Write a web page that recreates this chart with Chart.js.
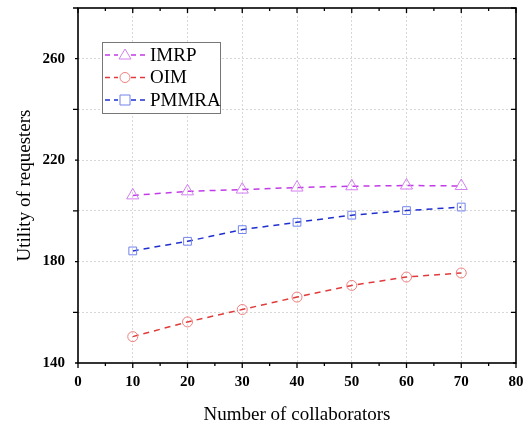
<!DOCTYPE html>
<html>
<head>
<meta charset="utf-8">
<script src="https://cdn.jsdelivr.net/npm/chart.js@4"></script>
<style>
  html, body { margin: 0; padding: 0; background: #ffffff; }
  #wrap { width: 524px; height: 426px; }
</style>
</head>
<body>
<div id="wrap"><canvas id="c" width="524" height="426"></canvas></div>
<script>
// Number of collaborators on the x axis
const collaborators = [10, 20, 30, 40, 50, 60, 70];

// Utility of requesters for each scheme
const imrp  = [206.1, 207.7, 208.4, 209.2, 209.7, 210.0, 209.8];
const oim   = [150.4, 156.2, 161.1, 166.0, 170.6, 173.9, 175.5];
const pmmra = [184.2, 188.0, 192.6, 195.5, 198.3, 200.1, 201.5];

// Labelled y ticks
const yTickLabels = [140, 180, 220, 260];

const SERIF = '"Liberation Serif", "Times New Roman", serif';

function pts(values) {
  return collaborators.map((x, i) => ({ x: x, y: values[i] }));
}

// Axis frame with tick marks: outward on left/bottom, inward on top/right
const framePlugin = {
  id: 'frame',
  afterDraw(chart) {
    const { ctx, chartArea: a, scales } = chart;
    const xs = scales.x, ys = scales.y;
    ctx.save();
    ctx.strokeStyle = '#000';
    ctx.lineWidth = 1.6;
    ctx.strokeRect(a.left, a.top, a.right - a.left, a.bottom - a.top);
    ctx.lineWidth = 1.3;
    ctx.beginPath();
    for (let v = 0; v <= 80; v += 5) {
      const px = xs.getPixelForValue(v);
      const len = v % 10 === 0 ? 5 : 3;
      ctx.moveTo(px, a.bottom); ctx.lineTo(px, a.bottom + len);
      ctx.moveTo(px, a.top); ctx.lineTo(px, a.top + len);
    }
    for (let v = 140; v <= 280; v += 20) {
      const py = ys.getPixelForValue(v);
      const len = v % 40 === 20 ? 3 : 5;
      ctx.moveTo(a.left, py); ctx.lineTo(a.left - len, py);
      ctx.moveTo(a.right, py); ctx.lineTo(a.right - len, py);
    }
    ctx.stroke();
    ctx.restore();
  }
};

// Boxed legend inside the plot area
const legendPlugin = {
  id: 'boxLegend',
  afterDraw(chart) {
    const { ctx } = chart;
    const bx = 102, by = 42, bw = 118, bh = 71;
    ctx.save();
    ctx.fillStyle = '#fff';
    ctx.fillRect(bx, by, bw, bh);
    ctx.strokeStyle = '#777';
    ctx.lineWidth = 1;
    ctx.strokeRect(bx + 0.5, by + 0.5, bw, bh);
    chart.data.datasets.forEach((ds, i) => {
      const cy = by + 13 + i * 22.5;
      ctx.strokeStyle = ds.borderColor;
      ctx.lineWidth = 1.3;
      ctx.setLineDash([5, 4]);
      ctx.beginPath();
      ctx.moveTo(bx + 3, cy); ctx.lineTo(bx + 16, cy);
      ctx.moveTo(bx + 29, cy); ctx.lineTo(bx + 43, cy);
      ctx.stroke();
      ctx.setLineDash([]);
      ctx.strokeStyle = ds.pointBorderColor;
      ctx.lineWidth = 1;
      const mx = bx + 23;
      ctx.beginPath();
      if (ds.pointStyle === 'triangle') {
        ctx.moveTo(mx, cy - 6); ctx.lineTo(mx + 6, cy + 4); ctx.lineTo(mx - 6, cy + 4); ctx.closePath();
      } else if (ds.pointStyle === 'circle') {
        ctx.arc(mx, cy, 5, 0, Math.PI * 2);
      } else {
        ctx.rect(mx - 5, cy - 5, 10, 10);
      }
      ctx.stroke();
      ctx.fillStyle = '#000';
      ctx.font = '19px ' + SERIF;
      ctx.textBaseline = 'middle';
      ctx.fillText(ds.label, bx + 48, cy + 1);
    });
    ctx.restore();
  }
};

function series(label, values, line, marker, style, radius) {
  return {
    label: label,
    data: pts(values),
    borderColor: line,
    borderWidth: 1.5,
    borderDash: [6, 5],
    pointStyle: style,
    pointRadius: radius,
    pointBorderColor: marker,
    pointBorderWidth: 1,
    pointBackgroundColor: 'rgba(255,255,255,0)',
    fill: false,
    tension: 0
  };
}

new Chart(document.getElementById('c'), {
  type: 'line',
  data: {
    datasets: [
      series('IMRP', imrp, '#c23be6', '#d47ff0', 'triangle', 7),
      series('OIM', oim, '#e03a3a', '#ee7f7f', 'circle', 5),
      series('PMMRA', pmmra, '#1f2fcf', '#7384ee', 'rect', 5.5)
    ]
  },
  options: {
    responsive: false,
    animation: false,
    devicePixelRatio: 1,
    layout: { padding: { top: 8, right: 5, left: 0, bottom: 0 } },
    plugins: { legend: { display: false }, tooltip: { enabled: false } },
    scales: {
      x: {
        type: 'linear',
        min: 0, max: 80,
        border: { display: false, dash: [2, 2] },
        grid: {
          color: (c) => (c.tick.value === 0 || c.tick.value === 80) ? 'rgba(0,0,0,0)' : '#d8d8d8',
          lineWidth: 1,
          drawTicks: false
        },
        ticks: {
          stepSize: 10,
          padding: 10,
          color: '#000',
          font: { family: SERIF, size: 15, weight: 'bold' }
        },
        title: {
          display: true,
          text: 'Number of collaborators',
          color: '#000',
          font: { family: SERIF, size: 19 },
          padding: { top: 5, bottom: 0 }
        },
        afterFit(s) {
          s.height = 63;
          s.paddingLeft = 0; s.paddingRight = 0;
        }
      },
      y: {
        type: 'linear',
        min: 140, max: 280,
        border: { display: false, dash: [2, 2] },
        grid: {
          color: (c) => (c.tick.value === 140 || c.tick.value === 280) ? 'rgba(0,0,0,0)' : '#d8d8d8',
          lineWidth: 1,
          drawTicks: false
        },
        ticks: {
          stepSize: 20,
          padding: 13,
          color: '#000',
          font: { family: SERIF, size: 15, weight: 'bold' },
          callback: (v) => yTickLabels.includes(v) ? String(v) : ''
        },
        title: {
          display: true,
          text: 'Utility of requesters',
          color: '#000',
          font: { family: SERIF, size: 19 },
          padding: { top: 14, bottom: 6 }
        },
        afterFit(s) {
          s.width = 78;
          s.paddingTop = 0; s.paddingBottom = 0;
        }
      }
    }
  },
  plugins: [framePlugin, legendPlugin]
});
</script>
</body>
</html>
